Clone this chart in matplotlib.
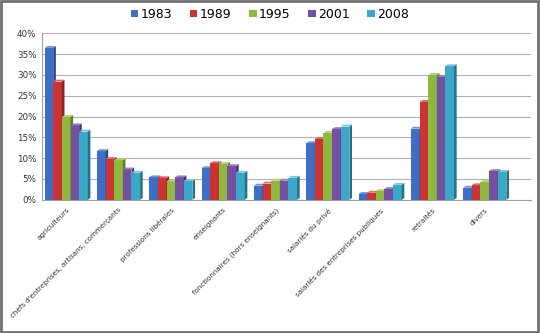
import numpy as np
import matplotlib
matplotlib.use("Agg")
import matplotlib.pyplot as plt
from matplotlib.patches import Polygon, Rectangle

# Données (part en %)
categories = ["agriculteurs", "chefs d'entreprises, artisans, commerçants",
              "professions libérales", "enseignants",
              "fonctionnaires (hors enseignants)", "salariés du privé",
              "salariés des entreprises publiques", "retraités", "divers"]
years = ["1983", "1989", "1995", "2001", "2008"]
v1983 = [36.5, 11.7, 5.4, 7.6, 3.4, 13.6, 1.4, 17.1, 2.9]
v1989 = [28.4, 9.8, 5.2, 8.8, 3.9, 14.6, 1.7, 23.5, 3.5]
v1995 = [19.9, 9.5, 4.4, 8.6, 4.6, 16.1, 2.1, 30.0, 4.3]
v2001 = [17.9, 7.3, 5.4, 8.1, 4.6, 17.0, 2.6, 29.5, 6.9]
v2008 = [16.4, 6.5, 4.5, 6.5, 5.3, 17.6, 3.6, 32.1, 6.7]
series = [v1983, v1989, v1995, v2001, v2008]
colors = ["#3d6fc4", "#cc3333", "#8fb83e", "#7450a0", "#3aa8c8"]
side_colors = ["#254a87", "#8a1f1f", "#5e7d25", "#4c3370", "#23728a"]
top_colors = ["#6b93d8", "#e06a6a", "#b3d16f", "#9a7cc0", "#74c6de"]

fig = plt.figure(figsize=(5.4, 3.33), dpi=100)
ax = fig.add_axes([0.078, 0.40, 0.905, 0.50])

x = np.arange(len(categories))
w = 0.165
dx, dy = 0.05, 0.45  # décalage pour l'effet 3D

for i, vals in enumerate(series):
    xs = x + (i - 2) * w
    ax.bar(xs, vals, width=w, color=colors[i], label=years[i], zorder=3,
           linewidth=0)
    for xc, v in zip(xs, vals):
        r = xc + w / 2
        l = xc - w / 2
        ax.add_patch(Polygon([(r, 0), (r + dx, dy), (r + dx, v + dy), (r, v)],
                             closed=True, color=side_colors[i], zorder=3,
                             linewidth=0))
        ax.add_patch(Polygon([(l, v), (r, v), (r + dx, v + dy), (l + dx, v + dy)],
                             closed=True, color=top_colors[i], zorder=3,
                             linewidth=0))

ax.set_ylim(0, 40)
ax.set_xlim(-0.46, 8.88)
ax.set_yticks(range(0, 41, 5))
ax.set_yticklabels([f"{t}%" for t in range(0, 41, 5)], fontsize=6.3,
                   color="#333333")
ax.yaxis.grid(True, color="#b0b0b0", linewidth=0.8, zorder=0)
ax.set_axisbelow(True)
ax.set_xticks(x)
ax.set_xticklabels(categories, rotation=45, ha="right",
                   rotation_mode="anchor", fontsize=5.1, color="#333333")
ax.tick_params(axis="x", length=0, pad=5)
ax.tick_params(axis="y", length=0, pad=4)
for s in ["top", "right"]:
    ax.spines[s].set_visible(False)
ax.spines["left"].set_color("#a0a0a0")
ax.spines["bottom"].set_color("#a0a0a0")

leg = fig.legend(loc="upper center", bbox_to_anchor=(0.5, 1.01), ncol=5,
                 frameon=False, fontsize=9, handlelength=0.6,
                 handleheight=0.6, handletextpad=0.2, columnspacing=1.4)

fig.add_artist(Rectangle((0.002, 0.003), 0.995, 0.993, transform=fig.transFigure,
                         fill=False, edgecolor="#707070", linewidth=2))

fig.savefig("out.png", dpi=100)
